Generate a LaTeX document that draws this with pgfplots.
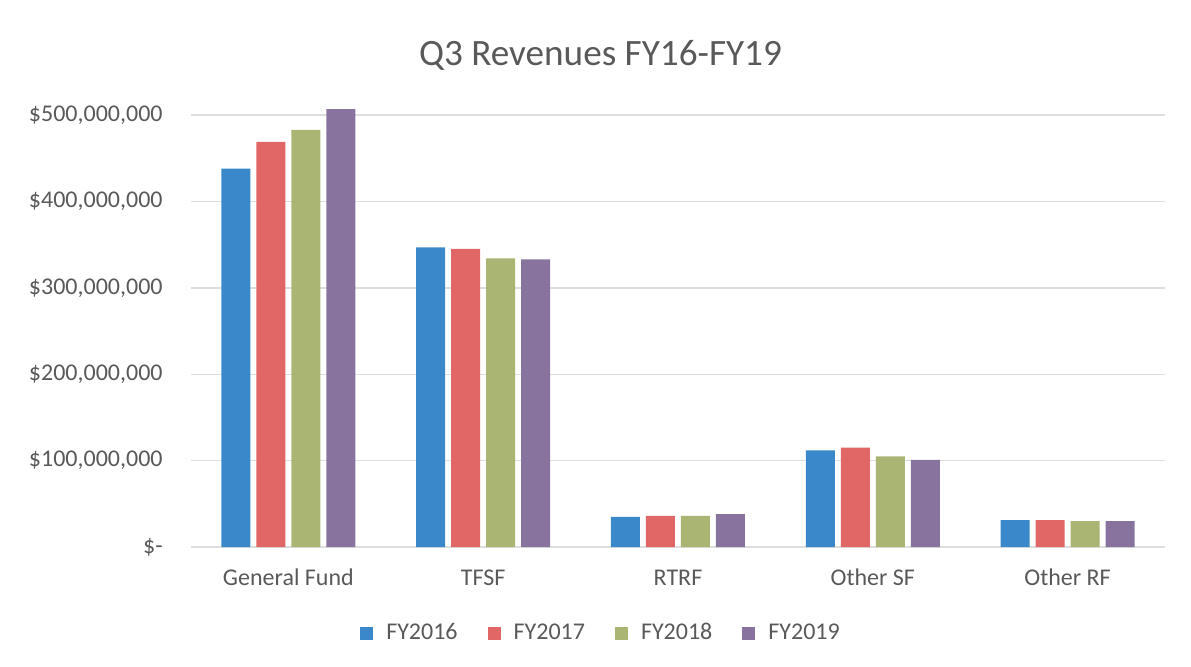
\documentclass[border=0pt]{standalone}
\usepackage{fontspec}
\setmainfont{Carlito}
\usepackage{pgfplots}
\pgfplotsset{compat=1.18}
\definecolor{c16}{RGB}{58,136,201}
\definecolor{c17}{RGB}{225,103,102}
\definecolor{c18}{RGB}{170,181,115}
\definecolor{c19}{RGB}{135,115,158}
\definecolor{txt}{RGB}{89,89,89}
\definecolor{gridc}{RGB}{222,222,222}
\begin{document}
\begin{tikzpicture}
\begin{axis}[
  name=ax,
  scale only axis,
  width=487pt, height=224.6pt,
  ybar=3pt, bar width=14.5pt,
  xmin=-0.5, xmax=4.5,
  ymin=0, ymax=520000000,
  xtick={0,1,2,3,4},
  xticklabels={General Fund,TFSF,RTRF,Other SF,Other RF},
  ytick={0,100000000,200000000,300000000,400000000,500000000},
  yticklabels={\$-\hspace{5.5pt},\$100{,}000{,}000,\$200{,}000{,}000,\$300{,}000{,}000,\$400{,}000{,}000,\$500{,}000{,}000},
  scaled y ticks=false,
  major tick length=0pt,
  axis line style={draw=none},
  ymajorgrids, grid style={gridc, line width=0.7pt},
  tick label style={font=\fontsize{12}{14}\selectfont, text=txt},
  yticklabel style={inner sep=0pt, anchor=east, xshift=-14pt},
  xticklabel style={inner sep=0pt, anchor=base, yshift=-19pt},
  legend columns=4,
  legend style={draw=none, fill=none, at={(0.422,0)}, anchor=center, yshift=-43pt,
    font=\fontsize{12}{14}\selectfont, text=txt,
    /tikz/every odd column/.append style={column sep=4.5pt},
    /tikz/every even column/.append style={column sep=13pt}},
  legend image code/.code={\path[#1, draw=none] (0pt,-3.25pt) rectangle (6.5pt,3.25pt);},
]
\addplot[fill=c16, draw=none] coordinates {(0,438000000) (1,347000000) (2,35000000) (3,112000000) (4,31000000)};
\addplot[fill=c17, draw=none] coordinates {(0,469000000) (1,345000000) (2,36000000) (3,115000000) (4,31000000)};
\addplot[fill=c18, draw=none] coordinates {(0,483000000) (1,334000000) (2,36000000) (3,105000000) (4,30000000)};
\addplot[fill=c19, draw=none] coordinates {(0,507000000) (1,333000000) (2,38000000) (3,101000000) (4,30000000)};
\legend{FY2016,FY2017,FY2018,FY2019}
\end{axis}
\node[anchor=base, text=txt, font=\fontsize{18.6}{22}\selectfont] at ([xshift=204.75pt, yshift=241pt]ax.south west) {Q3 Revenues FY16-FY19};
\pgfresetboundingbox
\path[use as bounding box] ([xshift=-95.5pt, yshift=-59.5pt]ax.south west) rectangle ++(595.5pt,333pt);
\end{tikzpicture}
\end{document}
